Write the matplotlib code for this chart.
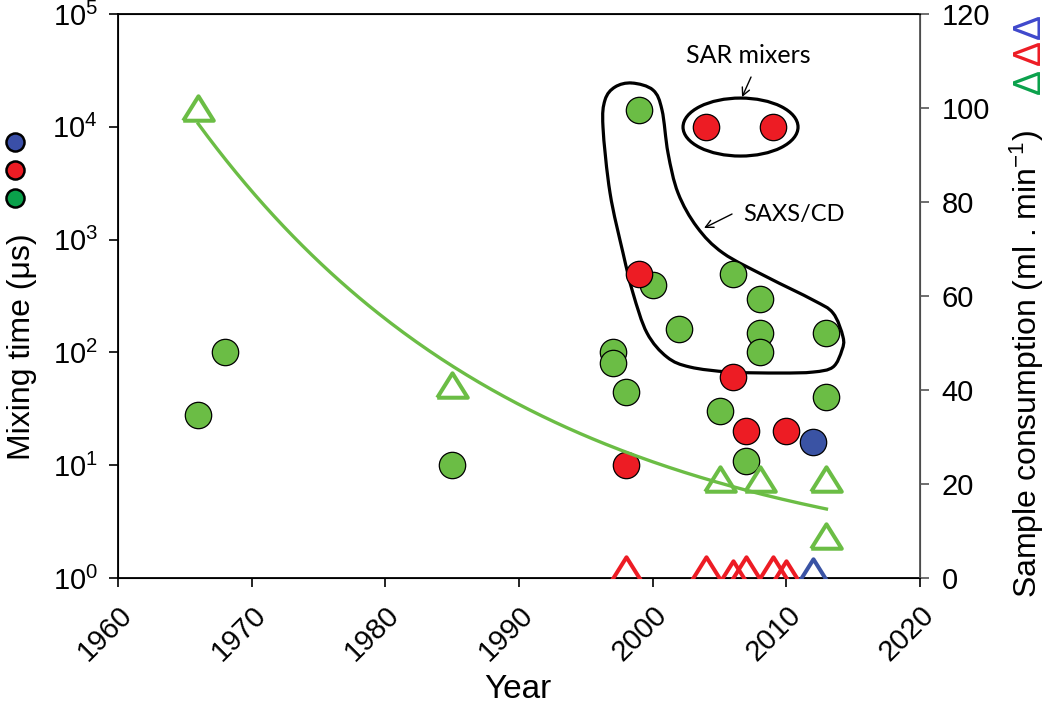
import numpy as np
import matplotlib
matplotlib.use('Agg')
import matplotlib.pyplot as plt
from matplotlib.patches import Ellipse, PathPatch
from matplotlib.path import Path
from matplotlib.lines import Line2D
from matplotlib.ticker import NullLocator

plt.rcParams['font.family'] = ['Liberation Sans', 'DejaVu Sans']
plt.rcParams['mathtext.fontset'] = 'custom'
plt.rcParams['mathtext.rm'] = 'Liberation Sans'
plt.rcParams['mathtext.it'] = 'Liberation Sans:italic'
plt.rcParams['mathtext.default'] = 'regular'

# mixing time (us) -> circles on the left log axis
green_year = [1966, 1968, 1985, 1997, 1997, 1998, 1999, 2000, 2002, 2005, 2006, 2007, 2008, 2008, 2008, 2013, 2013]
green_mix = [28, 100, 10, 100, 80, 45, 14000, 400, 160, 30, 500, 11, 300, 150, 100, 150, 40]
red_year = [1998, 1999, 2004, 2006, 2007, 2009, 2010]
red_mix = [10, 500, 10000, 60, 20, 10000, 20]
blue_year = [2012]
blue_mix = [16]

# sample consumption (ml/min) -> triangles on the right axis
green_tri_year = [1966, 1985, 2005, 2008, 2013, 2013]
green_tri_cons = [100, 41, 21, 21, 21, 9]
red_tri_year = [1998, 2004, 2006, 2007, 2009, 2010]
red_tri_cons = [2, 2, 1, 2, 2, 1]
blue_tri_year = [2012]
blue_tri_cons = [1.5]

year_ticks = [1960, 1970, 1980, 1990, 2000, 2010, 2020]
cons_ticks = [0, 20, 40, 60, 80, 100, 120]

GREEN = '#6bbd45'
RED = '#ed1c24'
BLUE = '#3a53a4'

# outline of the SAXS/CD group (axes fraction)
blob = [(0.6409, 0.8777), (0.6671, 0.8652), (0.6783, 0.8298), (0.6858, 0.7535),
        (0.6983, 0.6826), (0.7219, 0.6223), (0.7544, 0.5762), (0.8092, 0.5337),
        (0.8666, 0.4929), (0.8915, 0.4699), (0.9040, 0.4273), (0.9027, 0.4043),
        (0.8915, 0.3741), (0.8666, 0.3652), (0.8254, 0.3635), (0.7631, 0.3652),
        (0.7132, 0.3741), (0.6845, 0.3918), (0.6596, 0.4344), (0.6421, 0.5053),
        (0.6297, 0.5762), (0.6135, 0.6826), (0.6047, 0.7996), (0.6072, 0.8475),
        (0.6197, 0.8706)]


def smooth_closed_path(pts):
    # catmull-rom through the points, written as cubic beziers
    p = np.array(pts)
    n = len(p)
    verts = [p[0]]
    codes = [Path.MOVETO]
    for i in range(n):
        p0, p1, p2, p3 = p[i - 1], p[i], p[(i + 1) % n], p[(i + 2) % n]
        verts += [p1 + (p2 - p0) / 6, p2 - (p3 - p1) / 6, p2]
        codes += [Path.CURVE4] * 3
    return Path(verts, codes)


fig = plt.figure(figsize=(10.5, 7.05), dpi=100)
ax = fig.add_axes([0.1124, 0.1801, 0.7638, 0.80])
ax2 = ax.twinx()

# circles
circ = dict(linestyle='none', marker='o', markersize=19, markeredgecolor='black',
            markeredgewidth=0.9, zorder=3)
ax.plot(green_year, green_mix, markerfacecolor=GREEN, **circ)
ax.plot(red_year, red_mix, markerfacecolor=RED, **circ)
ax.plot(blue_year, blue_mix, markerfacecolor=BLUE, **circ)

# group outlines
ax.add_patch(PathPatch(smooth_closed_path(blob), transform=ax.transAxes, facecolor='none',
                       edgecolor='black', lw=2.3, zorder=2))
ax.add_patch(Ellipse((0.7762, 0.7996), 0.1434, 0.1028, transform=ax.transAxes,
                     facecolor='none', edgecolor='black', lw=2.3, zorder=2))
arrow = dict(arrowstyle='->', lw=1, color='black', shrinkA=0, shrinkB=0, mutation_scale=14)
ax.text(0.7855, 0.927, 'SAR mixers', transform=ax.transAxes, fontsize=18,
        family='Lato', ha='center', va='center')
ax.annotate('', xy=(0.7781, 0.8528), xytext=(0.7893, 0.8883), xycoords='axes fraction',
            arrowprops=arrow)
ax.text(0.779, 0.6454, 'SAXS/CD', transform=ax.transAxes, fontsize=17,
        family='Lato', ha='left', va='center')
ax.annotate('', xy=(0.7307, 0.6206), xytext=(0.7656, 0.6454), xycoords='axes fraction',
            arrowprops=arrow)

# triangles + exponential fit of the green ones
tri = [(-1, -0.8), (1, -0.8), (0, 0.8), (-1, -0.8)]
tri_style = dict(linestyle='none', marker=tri, markersize=22, markerfacecolor='none',
                 markeredgewidth=2.9, zorder=4)
coef = np.polyfit(green_tri_year, np.log(green_tri_cons), 1)
fit_x = np.linspace(min(green_tri_year), max(green_tri_year), 200)
ax2.plot(fit_x, np.exp(np.polyval(coef, fit_x)), color=GREEN, lw=2.4, zorder=3)
ax2.plot(green_tri_year, green_tri_cons, markeredgecolor=GREEN, **tri_style)
ax2.plot(red_tri_year, red_tri_cons, markeredgecolor=RED, **tri_style)
ax2.plot(blue_tri_year, blue_tri_cons, markeredgecolor=BLUE, **tri_style)

# axes
ax.set_yscale('log')
ax.set_ylim(1, 1e5)
ax.set_xlim(1960, 2020)
ax.yaxis.set_minor_locator(NullLocator())
ax.set_xticks(year_ticks)
ax.set_xticklabels([str(y) for y in year_ticks], rotation=45, ha='right', va='top',
                   rotation_mode='anchor')
ax2.set_ylim(0, 120)
ax2.set_yticks(cons_ticks)
ax.tick_params(axis='both', direction='out', length=6.5, width=1.2, labelsize=21, pad=8)
ax.tick_params(axis='x', pad=10)
ax2.tick_params(axis='y', direction='out', length=6.5, width=1.2, labelsize=21, pad=9,
                color='#555555')
for s in ['left', 'bottom', 'top']:
    ax.spines[s].set_linewidth(1.3)
ax2.spines['right'].set_color('#555555')
ax2.spines['right'].set_linewidth(1.3)

# axis titles
fig.text(0.4933, 0.022, 'Year', fontsize=24, ha='center', va='center')
fig.text(0.021, 0.508, 'Mixing time (\u03bcs)', rotation=90, fontsize=23, ha='center', va='center')
# coloured dots that key the left axis to the circles
for c, y in zip(['#0aa14b', RED, '#3a4fa8'], [0.719, 0.759, 0.799]):
    fig.add_artist(Line2D([0.0143], [y], transform=fig.transFigure, marker='o', markersize=13,
                          markerfacecolor=c, markeredgecolor='black', markeredgewidth=1.8,
                          linestyle='none'))
fig.text(0.978, 0.483, 'Sample consumption (ml . min$^{-1}$)', rotation=90, fontsize=23,
         ha='center', va='center')
for c, y in zip(['#0aa14b', RED, '#3f48cc'], [0.884, 0.925, 0.963]):
    fig.text(0.981, y, '\u0394', color=c, fontsize=27, rotation=90, ha='center', va='center')

fig.savefig('out.png', dpi=100)
